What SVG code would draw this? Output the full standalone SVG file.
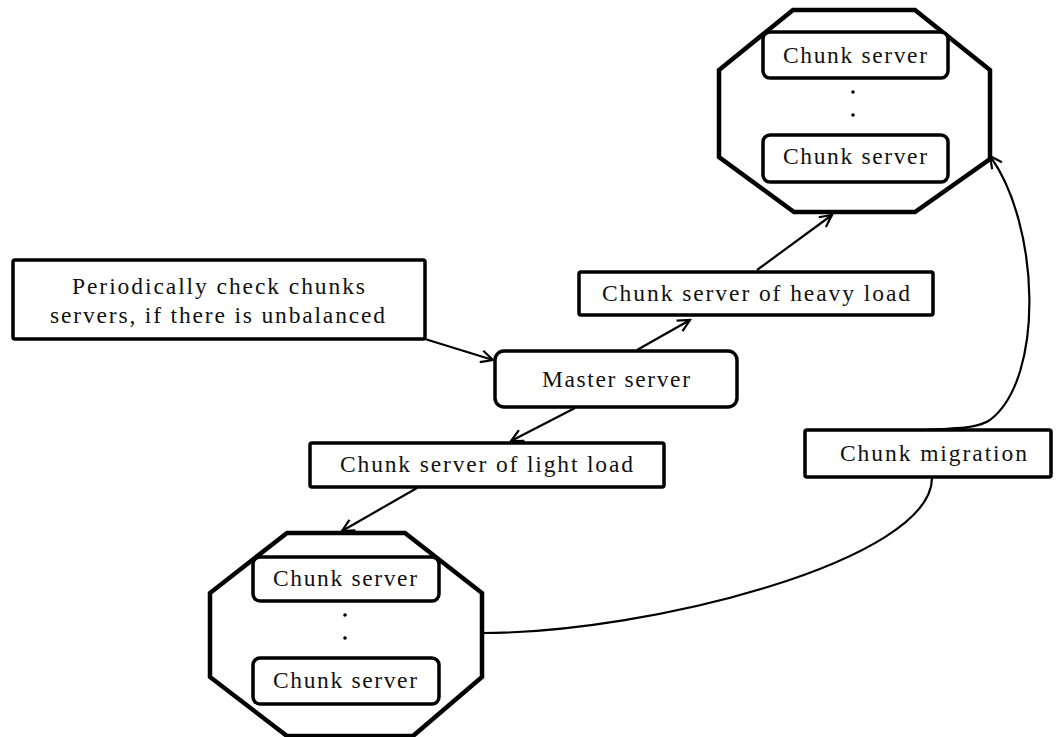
<svg xmlns="http://www.w3.org/2000/svg" width="1056" height="737" viewBox="0 0 1056 737">
<style>
.box{fill:#fff;stroke:#000;stroke-width:3.5;stroke-linejoin:round}
.oct{fill:#fff;stroke:#000;stroke-width:4.5;stroke-linejoin:miter}
.t{font-family:"Liberation Serif","Times New Roman",serif;font-size:23.5px;fill:#111;text-anchor:middle}
.c{fill:none;stroke:#000;stroke-width:2.2}
.dot{fill:#000}
</style>
<defs>
<marker id="ah" markerUnits="userSpaceOnUse" markerWidth="16" markerHeight="16" viewBox="0 0 16 16" refX="14" refY="8" orient="auto">
<path d="M2,2 L14,8 L2,14" fill="none" stroke="#000" stroke-width="2.2" stroke-linejoin="miter"/>
</marker>
</defs>
<g id="heavy-cluster">
<polygon class="oct" points="793,10 915,10 990,70 990,159 915,212 794,212 719,157 719,70"/>
<rect class="box" x="763" y="32" width="185" height="46" rx="7"/>
<text class="t" x="855" y="63" textLength="144" lengthAdjust="spacing">Chunk server</text>
<circle class="dot" cx="853" cy="92" r="1.8"/>
<circle class="dot" cx="853" cy="115" r="1.8"/>
<rect class="box" x="763" y="135" width="185" height="47" rx="7"/>
<text class="t" x="855" y="164" textLength="144" lengthAdjust="spacing">Chunk server</text>
</g>
<g id="light-cluster">
<polygon class="oct" points="287,533 405,533 482,593 482,677 413,736 287,736 210,677 210,593"/>
<rect class="box" x="253" y="557" width="186" height="44" rx="7"/>
<text class="t" x="345" y="586" textLength="144" lengthAdjust="spacing">Chunk server</text>
<circle class="dot" cx="345" cy="615" r="1.8"/>
<circle class="dot" cx="345" cy="638" r="1.8"/>
<rect class="box" x="253" y="658" width="186" height="46" rx="7"/>
<text class="t" x="345" y="688" textLength="144" lengthAdjust="spacing">Chunk server</text>
</g>
<g id="check">
<rect class="box" x="13" y="260" width="412" height="79" rx="2" stroke-width="4.5"/>
<text class="t" x="218.5" y="294" textLength="293" lengthAdjust="spacing">Periodically check chunks</text>
<text class="t" x="217.5" y="323" textLength="335" lengthAdjust="spacing">servers, if there is unbalanced</text>
</g>
<g id="master">
<rect class="box" x="495" y="351" width="242" height="56" rx="9"/>
<text class="t" x="616" y="387" textLength="148" lengthAdjust="spacing">Master server</text>
</g>
<g id="heavy">
<rect class="box" x="579" y="272" width="354" height="43" rx="2"/>
<text class="t" x="756" y="301" textLength="308" lengthAdjust="spacing">Chunk server of heavy load</text>
</g>
<g id="light">
<rect class="box" x="310" y="443" width="354" height="44" rx="2"/>
<text class="t" x="486.5" y="472" textLength="293" lengthAdjust="spacing">Chunk server of light load</text>
</g>
<g id="migration">
<rect class="box" x="805" y="430" width="246" height="47" rx="2"/>
<text class="t" x="933.5" y="461" textLength="187" lengthAdjust="spacing">Chunk migration</text>
</g>
<g id="connectors">
<line class="c" x1="425" y1="339" x2="493" y2="360" marker-end="url(#ah)"/>
<line class="c" x1="637" y1="350" x2="690" y2="320" marker-end="url(#ah)"/>
<line class="c" x1="757" y1="270" x2="832" y2="215" marker-end="url(#ah)"/>
<line class="c" x1="575" y1="408" x2="511" y2="441" marker-end="url(#ah)"/>
<line class="c" x1="417" y1="488" x2="342" y2="531" marker-end="url(#ah)"/>
<path class="c" d="M482,633 C650,633 932,560 932,478"/>
<path class="c" d="M925,430 C962,428 978,428 990,420 C1045,378 1040,225 990,156" marker-end="url(#ah)"/>
</g>
</svg>
